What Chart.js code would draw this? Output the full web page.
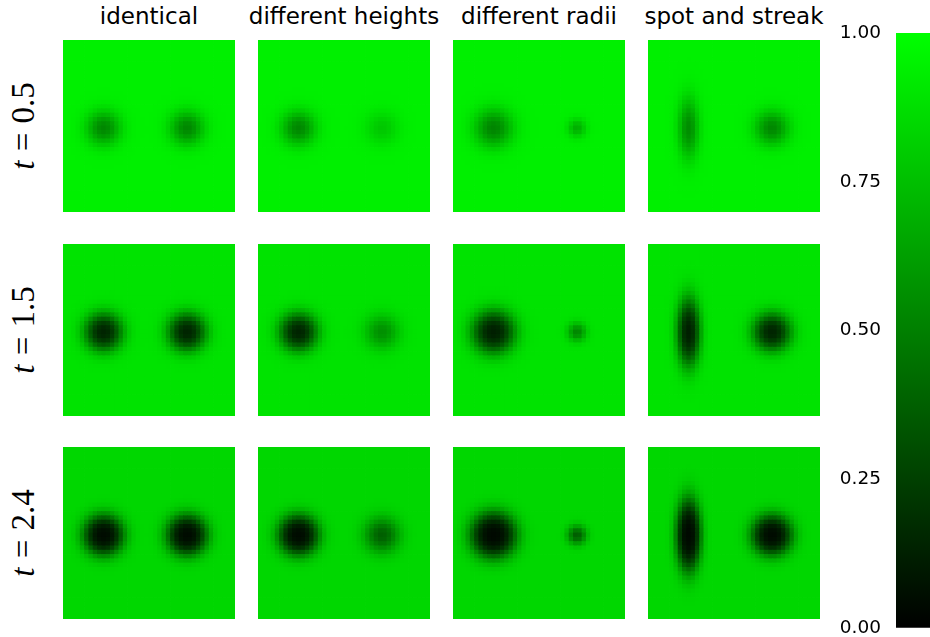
<!DOCTYPE html>
<html>
<head>
<meta charset="utf-8">
<script src="https://cdn.jsdelivr.net/npm/chart.js@4.4.1/dist/chart.umd.min.js"></script>
<style>
  html, body { margin: 0; padding: 0; background: #fff; }
  #fig { position: relative; width: 930px; height: 637px; overflow: hidden; }
  canvas.panel { position: absolute; }
  .title { position: absolute; top: 3px; width: 240px; text-align: center;
           font-family: "DejaVu Sans", sans-serif; font-size: 23px; color: #000; white-space: nowrap; }
  .rowlab { position: absolute; font-family: "Liberation Serif", "DejaVu Serif", serif; font-size: 33px;
            color: #000; white-space: nowrap; transform: translate(-50%, -50%) rotate(-90deg); line-height: 1; }
  .rowlab i { font-style: italic; }
  .rowlab .eq { margin: 0 0.28em; }
</style>
</head>
<body>
<div id="fig"></div>
<script>
// Column headings and the time of each row
const columnTitles = ['identical', 'different heights', 'different radii', 'spot and streak'];
const rowTimes = ['0.5', '1.5', '2.4'];

// Colour-bar ticks
const colorbarTicks = [0, 0.25, 0.5, 0.75, 1];

// Cells per side of each field
const gridSize = 40;

// Level of the undisturbed field at each time
const backgroundLevel = [0.94, 0.89, 0.845];

// Darkest value at the centre of the left and right mark, one pair per time
const identicalCentres = [[0.53, 0.53], [0.14, 0.14], [0.045, 0.045]];
const heightsCentres   = [[0.53, 0.78], [0.14, 0.56], [0.045, 0.37]];
const radiiCentres     = [[0.52, 0.68], [0.12, 0.52], [0.035, 0.36]];
const streakCentres    = [[0.55, 0.53], [0.12, 0.14], [0.035, 0.045]];

// Mark centres (cell units, x from left, y from top)
const leftCentre  = [9.5, 20.6];
const rightCentre = [28.9, 20.6];

// Mark spreads (sigma x, sigma y in cells): left mark, right mark
const identicalWidths = [[2.55, 2.55], [2.55, 2.55]];
const heightsWidths   = [[2.55, 2.55], [2.55, 2.55]];
const radiiWidths     = [[2.85, 2.85], [1.4, 1.4]];
const streakWidths    = [[1.55, 4.5], [2.55, 2.55]];

const columnCentres = [identicalCentres, heightsCentres, radiiCentres, streakCentres];
const columnWidths  = [identicalWidths, heightsWidths, radiiWidths, streakWidths];

// Panel placement on the page
const panelLeft = [63, 258, 453, 648];
const panelTop  = [40, 244, 447];
const panelSize = 172;

const fig = document.getElementById('fig');

function greenOf(v) {
  v = Math.max(0, Math.min(1, v));
  return 'rgb(0,' + Math.round(255 * v) + ',0)';
}

// Attenuation of a mark: centre ratio raised to a gaussian weight
function fieldValue(bg, centres, widths, cx, cy) {
  const marks = [leftCentre, rightCentre];
  let v = bg;
  for (let k = 0; k < 2; k++) {
    const dx = cx - marks[k][0], dy = cy - marks[k][1];
    const w = Math.exp(-(dx * dx) / (2 * widths[k][0] * widths[k][0]) - (dy * dy) / (2 * widths[k][1] * widths[k][1]));
    v *= Math.pow(centres[k] / bg, w);
  }
  return v;
}

function makePanel(row, col) {
  const cv = document.createElement('canvas');
  cv.className = 'panel';
  cv.width = panelSize; cv.height = panelSize;
  cv.style.left = panelLeft[col] + 'px';
  cv.style.top = panelTop[row] + 'px';
  cv.style.width = panelSize + 'px'; cv.style.height = panelSize + 'px';
  fig.appendChild(cv);

  const bg = backgroundLevel[row];
  const centres = columnCentres[col][row];
  const widths = columnWidths[col];
  const labels = [];
  for (let i = 0; i < gridSize; i++) labels.push(i);

  // One stacked dataset per grid row, bottom row first; each cell is one unit tall
  const datasets = [];
  for (let j = 0; j < gridSize; j++) {
    const rTop = gridSize - 1 - j;
    const colors = [];
    const ones = [];
    for (let i = 0; i < gridSize; i++) {
      colors.push(greenOf(fieldValue(bg, centres, widths, i + 0.5, rTop + 0.5)));
      ones.push(1);
    }
    datasets.push({ data: ones, backgroundColor: colors, borderWidth: 0,
                    barPercentage: 1, categoryPercentage: 1, inflateAmount: 0.4 });
  }

  new Chart(cv, {
    type: 'bar',
    data: { labels, datasets },
    options: {
      responsive: false, animation: false, devicePixelRatio: 1,
      layout: { padding: 0, autoPadding: false },
      plugins: { legend: { display: false }, tooltip: { enabled: false } },
      events: [],
      scales: {
        x: { stacked: true, display: false },
        y: { stacked: true, display: false, min: 0, max: gridSize }
      }
    }
  });
}

for (let r = 0; r < rowTimes.length; r++)
  for (let c = 0; c < columnTitles.length; c++) makePanel(r, c);

// Column titles
columnTitles.forEach((t, c) => {
  const d = document.createElement('div');
  d.className = 'title';
  d.textContent = t;
  d.style.left = (panelLeft[c] + panelSize / 2 - 120) + 'px';
  fig.appendChild(d);
});

// Row labels
rowTimes.forEach((t, r) => {
  const d = document.createElement('div');
  d.className = 'rowlab';
  d.innerHTML = '<i>t</i><span class="eq">=</span>' + t;
  d.style.left = '23px';
  d.style.top = (panelTop[r] + panelSize / 2) + 'px';
  fig.appendChild(d);
});

// Colour bar
const cb = document.createElement('canvas');
cb.className = 'panel';
cb.width = 104; cb.height = 637;
cb.style.left = '826px'; cb.style.top = '0px';
cb.style.width = '104px'; cb.style.height = '637px';
fig.appendChild(cb);

new Chart(cb, {
  type: 'bar',
  data: {
    labels: [''],
    datasets: [{
      data: [[0, 1]],
      borderWidth: 0, barPercentage: 1, categoryPercentage: 1,
      backgroundColor: (ctx) => {
        const area = ctx.chart.chartArea;
        if (!area) return '#0f0';
        const g = ctx.chart.ctx.createLinearGradient(0, area.bottom, 0, area.top);
        g.addColorStop(0, greenOf(0));
        g.addColorStop(1, greenOf(1));
        return g;
      }
    }]
  },
  options: {
    responsive: false, animation: false, devicePixelRatio: 1,
    layout: { padding: { top: 33, bottom: 9, left: 0, right: 0 }, autoPadding: false },
    plugins: { legend: { display: false }, tooltip: { enabled: false } },
    events: [],
    scales: {
      x: { display: false },
      y: {
        position: 'left', min: 0, max: 1,
        afterFit: (s) => { s.width = 70; },
        afterBuildTicks: (s) => { s.ticks = colorbarTicks.map(v => ({ value: v })); },
        border: { display: false },
        grid: { display: false, drawTicks: true, tickLength: 15 },
        ticks: {
          padding: 0, color: '#000',
          font: { family: 'DejaVu Sans', size: 18.5, lineHeight: 1 },
          callback: (v) => Number(v).toFixed(2)
        }
      }
    }
  }
});
</script>
</body>
</html>
